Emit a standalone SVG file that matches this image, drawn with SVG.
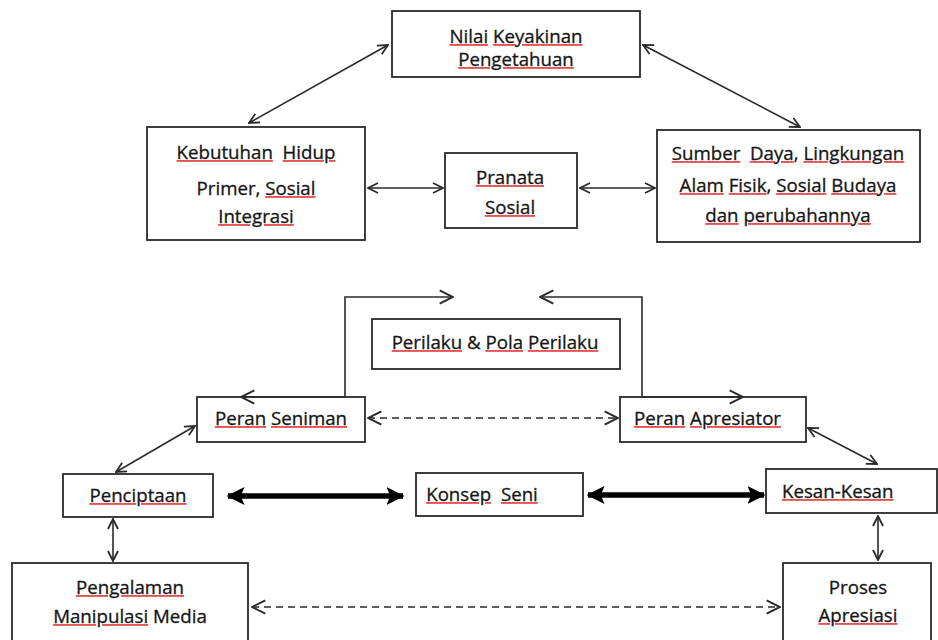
<svg xmlns="http://www.w3.org/2000/svg" width="938" height="640" viewBox="0 0 938 640">
<style>
.box{fill:#fff;stroke:#2a2a2a;stroke-width:1.8}
.t{font-family:"Open Sans","Liberation Sans",sans-serif;font-size:18.7px;fill:#151515;stroke:#151515;stroke-width:0.3;text-anchor:middle}
.ts{text-anchor:start}
.w{text-decoration:underline;fill:#e65050;stroke:none}
.w tspan{fill:#151515;stroke:#151515;stroke-width:0.3}
.c{fill:none;stroke:#2a2a2a;stroke-width:1.6}
.d{stroke-dasharray:7 5}
.thick{fill:none;stroke:#000;stroke-width:5.5}
</style>
<defs>
<marker id="a" viewBox="0 0 12 12" refX="11" refY="6" markerWidth="12" markerHeight="12" markerUnits="userSpaceOnUse" orient="auto-start-reverse">
<path d="M1,1 L11,6 L1,11" fill="none" stroke="#2a2a2a" stroke-width="1.8"/>
</marker>
<marker id="b" viewBox="0 0 12 12" refX="11" refY="6" markerWidth="16" markerHeight="16" markerUnits="userSpaceOnUse" orient="auto-start-reverse">
<path d="M1,1 L11,6 L1,11" fill="none" stroke="#2a2a2a" stroke-width="1.5"/>
</marker>
<marker id="f" viewBox="0 0 12 12" refX="11" refY="6" markerWidth="18" markerHeight="18" markerUnits="userSpaceOnUse" orient="auto-start-reverse">
<path d="M0,0 L12,6 L0,12 L2.5,6 Z" fill="#000"/>
</marker>
</defs>

<g id="nilai">
<rect class="box" x="392" y="11" width="248" height="66"/>
<text class="t" x="516" y="43"><tspan class="w"><tspan>Nilai</tspan></tspan> <tspan class="w"><tspan>Keyakinan</tspan></tspan></text>
<text class="t" x="516" y="66"><tspan class="w"><tspan>Pengetahuan</tspan></tspan></text>
</g>
<g id="kebutuhan">
<rect class="box" x="147" y="127" width="218" height="113"/>
<text class="t" x="256" y="159" xml:space="preserve"><tspan class="w"><tspan>Kebutuhan</tspan></tspan>  <tspan class="w"><tspan>Hidup</tspan></tspan></text>
<text class="t" x="256" y="195">Primer, <tspan class="w"><tspan>Sosial</tspan></tspan></text>
<text class="t" x="256" y="223"><tspan class="w"><tspan>Integrasi</tspan></tspan></text>
</g>
<g id="pranata">
<rect class="box" x="445" y="153" width="132" height="75"/>
<text class="t" x="510" y="184"><tspan class="w"><tspan>Pranata</tspan></tspan></text>
<text class="t" x="510" y="214"><tspan class="w"><tspan>Sosial</tspan></tspan></text>
</g>
<g id="sumber">
<rect class="box" x="657" y="130" width="263" height="112"/>
<text class="t" x="788" y="160" xml:space="preserve"><tspan class="w"><tspan>Sumber</tspan></tspan>  <tspan class="w"><tspan>Daya</tspan></tspan>, <tspan class="w"><tspan>Lingkungan</tspan></tspan></text>
<text class="t" x="788" y="192"><tspan class="w"><tspan>Alam</tspan></tspan> <tspan class="w"><tspan>Fisik</tspan></tspan>, <tspan class="w"><tspan>Sosial</tspan></tspan> <tspan class="w"><tspan>Budaya</tspan></tspan></text>
<text class="t" x="788" y="222"><tspan class="w"><tspan>dan</tspan></tspan> <tspan class="w"><tspan>perubahannya</tspan></tspan></text>
</g>
<g id="perilaku">
<rect class="box" x="372" y="319" width="248" height="50"/>
<text class="t" x="495" y="349"><tspan class="w"><tspan>Perilaku</tspan></tspan> &amp; <tspan class="w"><tspan>Pola</tspan></tspan> <tspan class="w"><tspan>Perilaku</tspan></tspan></text>
</g>
<g id="peran-seniman">
<rect class="box" x="197" y="397" width="168" height="45"/>
<text class="t" x="281" y="425"><tspan class="w"><tspan>Peran</tspan></tspan> <tspan class="w"><tspan>Seniman</tspan></tspan></text>
</g>
<g id="peran-apresiator">
<rect class="box" x="620" y="397" width="186" height="45"/>
<text class="t ts" x="634" y="425"><tspan class="w"><tspan>Peran</tspan></tspan> <tspan class="w"><tspan>Apresiator</tspan></tspan></text>
</g>
<g id="penciptaan">
<rect class="box" x="63" y="474" width="150" height="43"/>
<text class="t" x="138" y="502"><tspan class="w"><tspan>Penciptaan</tspan></tspan></text>
</g>
<g id="konsep">
<rect class="box" x="416" y="473" width="167" height="43"/>
<text class="t" x="482" y="501" xml:space="preserve"><tspan class="w"><tspan>Konsep</tspan></tspan>  <tspan class="w"><tspan>Seni</tspan></tspan></text>
</g>
<g id="kesan">
<rect class="box" x="766" y="469" width="171" height="44"/>
<text class="t ts" x="782" y="498"><tspan class="w"><tspan>Kesan-Kesan</tspan></tspan></text>
</g>
<g id="pengalaman">
<rect class="box" x="12" y="563" width="236" height="90"/>
<text class="t" x="130" y="594"><tspan class="w"><tspan>Pengalaman</tspan></tspan></text>
<text class="t" x="130" y="623"><tspan class="w"><tspan>Manipulasi</tspan></tspan> Media</text>
</g>
<g id="proses">
<rect class="box" x="783" y="563" width="148" height="90"/>
<text class="t" x="858" y="594">Proses</text>
<text class="t" x="858" y="622"><tspan class="w"><tspan>Apresiasi</tspan></tspan></text>
</g>

<g id="connectors">
<line class="c" x1="388" y1="45" x2="249" y2="123" marker-start="url(#a)" marker-end="url(#a)"/>
<line class="c" x1="643" y1="45" x2="800" y2="127" marker-start="url(#a)" marker-end="url(#a)"/>
<line class="c" x1="368" y1="188" x2="443" y2="188" marker-start="url(#a)" marker-end="url(#a)"/>
<line class="c" x1="580" y1="188" x2="655" y2="188" marker-start="url(#a)" marker-end="url(#a)"/>
<polyline class="c" points="345,397 345,297 453,297" marker-end="url(#b)"/>
<polyline class="c" points="642,397 642,297 540,297" marker-end="url(#b)"/>
<line class="c" x1="345" y1="397" x2="241" y2="397" stroke-width="2.4" marker-end="url(#b)"/>
<line class="c" x1="642" y1="397" x2="743" y2="397" stroke-width="2.4" marker-end="url(#b)"/>
<line class="c d" x1="368" y1="418" x2="618" y2="418" marker-start="url(#b)" marker-end="url(#b)"/>
<line class="c" x1="195" y1="426" x2="116" y2="472" marker-start="url(#a)" marker-end="url(#a)"/>
<line class="c" x1="808" y1="428" x2="877" y2="464" marker-start="url(#a)" marker-end="url(#a)"/>
<line class="thick" x1="228" y1="496" x2="403" y2="496" marker-start="url(#f)" marker-end="url(#f)"/>
<line class="thick" x1="588" y1="495" x2="764" y2="495" marker-start="url(#f)" marker-end="url(#f)"/>
<line class="c" x1="113" y1="519" x2="113" y2="561" marker-start="url(#a)" marker-end="url(#a)"/>
<line class="c" x1="878" y1="516" x2="878" y2="560" marker-start="url(#a)" marker-end="url(#a)"/>
<line class="c d" x1="252" y1="607" x2="780" y2="607" marker-start="url(#b)" marker-end="url(#b)"/>
</g>
</svg>
